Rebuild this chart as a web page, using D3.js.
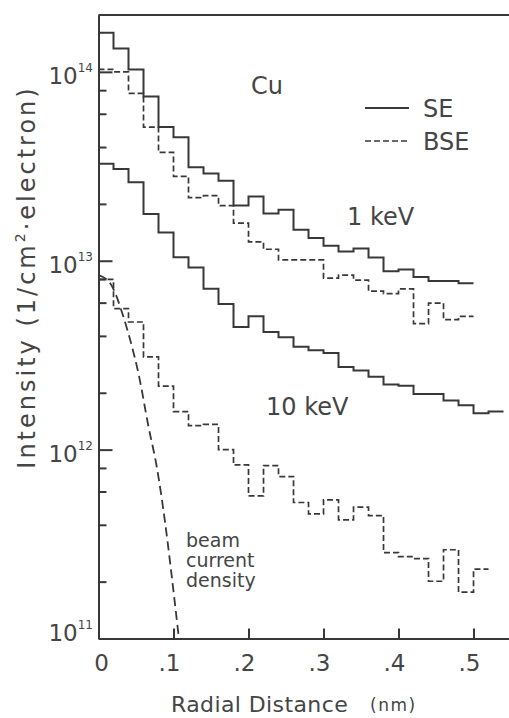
<!DOCTYPE html>
<meta charset="utf-8">
<head>
  <title>Cu - SE / BSE radial intensity</title>
</head>

<style>
  body { margin: 0; background: #fff; }
  svg text { font-family: "DejaVu Sans", sans-serif; fill: #454545; }
  .axis path, .axis line { stroke: #383838; stroke-width: 2; fill: none; }
</style>

<body>
  <svg width="509" height="718"></svg>

  <script src="https://cdn.jsdelivr.net/npm/d3@7/dist/d3.min.js"></script>
  <script>

// histogram bin width in nm
var binWidth = 0.02

// 1 keV
var se1keV = [1.61e14, 1.33e14, 1.03e14, 7.4e13, 5.1e13, 4.5e13, 3.13e13, 2.9e13, 2.65e13, 1.96e13,
              2.19e13, 1.78e13, 1.86e13, 1.46e13, 1.32e13, 1.20e13, 1.12e13, 1.16e13, 1.04e13, 8.8e12,
              9.0e12, 8.2e12, 7.8e12, 7.8e12, 7.6e12]
var bse1keV = [1.03e14, 1.0e14, 7.7e13, 5.1e13, 3.75e13, 2.8e13, 2.16e13, 2.21e13, 1.96e13, 1.58e13,
               1.26e13, 1.15e13, 1.01e13, 1.01e13, 1.01e13, 8.1e12, 8.4e12, 7.9e12, 6.9e12, 6.7e12,
               7.1e12, 4.65e12, 5.97e12, 4.88e12, 5.08e12]

// 10 keV
var se10keV = [3.26e13, 3.06e13, 2.60e13, 1.77e13, 1.41e13, 1.045e13, 9.2e12, 7.1e12, 5.9e12, 4.46e12,
               5.08e12, 4.2e12, 3.94e12, 3.5e12, 3.36e12, 3.25e12, 2.74e12, 2.62e12, 2.43e12, 2.21e12,
               2.18e12, 1.97e12, 1.97e12, 1.82e12, 1.72e12, 1.56e12, 1.59e12]
var bse10keV = [7.97e12, 5.58e12, 4.74e12, 3.10e12, 2.17e12, 1.59e12, 1.34e12, 1.36e12, 1.00e12, 8.3e11,
                5.69e11, 8.23e11, 7.2e11, 5.25e11, 4.57e11, 5.42e11, 4.25e11, 4.96e11, 4.47e11, 2.85e11,
                2.71e11, 2.65e11, 2.01e11, 2.95e11, 1.76e11, 2.33e11]

// beam current density (dashed curve)
var beamR = [0, 0.0156, 0.0333, 0.0423, 0.0533, 0.0667, 0.0777, 0.0889, 0.0977, 0.1067]
var beamI = [8.4e12, 7.6e12, 5.04e12, 3.8e12, 2.53e12, 1.32e12, 8.1e11, 4.08e11, 2.13e11, 1.04e11]

// axes
var xTicks = [0.1, 0.2, 0.3, 0.4, 0.5]
var xTickLabels = ["0", ".1", ".2", ".3", ".4", ".5"]
var yMajor = [1e11, 1e12, 1e13, 1e14]
var yExp = ["11", "12", "13", "14"]
var yMinor = [2e11, 4e11, 6e11, 8e11, 2e12, 4e12, 6e12, 8e12, 2e13, 4e13, 6e13, 8e13]

var ink = "#383838"
var svg = d3.select("svg")

var x = d3.scaleLinear().domain([0, 0.5473]).range([98.5, 509])
var y = d3.scaleLog().domain([1e11, 2e14]).range([638.5, 15])

// frame line on top
svg.append("line")
    .attr("x1", x(0)).attr("x2", x.range()[1])
    .attr("y1", y(2e14)).attr("y2", y(2e14))
    .style("stroke", ink).style("stroke-width", 2)

// y axis, ticks pointing in
svg.append("g").attr("class", "axis")
    .attr("transform", "translate(" + x(0) + ",0)")
    .call(d3.axisLeft(y).tickValues(yMinor).tickSizeInner(-8).tickSizeOuter(0).tickFormat(""))
svg.append("g").attr("class", "axis")
    .attr("transform", "translate(" + x(0) + ",0)")
    .call(d3.axisLeft(y).tickValues(yMajor).tickSizeInner(-14).tickSizeOuter(0).tickFormat(""))

// x axis
svg.append("g").attr("class", "axis")
    .attr("transform", "translate(0," + y(1e11) + ")")
    .call(d3.axisBottom(x).tickValues(xTicks).tickSizeInner(-10).tickSizeOuter(0).tickFormat(""))

// y tick labels 10^n
yMajor.forEach(function(v, i){
    var t = svg.append("text")
        .attr("x", 93)
        .attr("y", y(v) + (v == 1e11 ? 2 : 12))
        .attr("text-anchor", "end")
        .style("font-size", "23px")
    t.append("tspan").text("10")
    t.append("tspan").attr("dy", -12).style("font-size", "12px").text(yExp[i])
})

// x tick labels
xTickLabels.forEach(function(s, i){
    var v = i * 0.1
    svg.append("text")
        .attr("x", i == 0 ? x(v) + 3 : x(v) + 7)
        .attr("y", 671)
        .attr("text-anchor", i == 0 ? "middle" : "end")
        .style("font-size", "23px")
        .text(s)
})

// axis titles
var yl = svg.append("text")
    .attr("transform", "translate(35,277) rotate(-90)")
    .attr("text-anchor", "middle")
    .style("font-size", "24px")
    .style("letter-spacing", "3px")
yl.append("tspan").text("Intensity (1/cm")
yl.append("tspan").attr("dy", -10).style("font-size", "14px").text("2")
yl.append("tspan").attr("dy", 10).text("·electron)")

svg.append("text")
    .attr("x", 171).attr("y", 712)
    .style("font-size", "22px").style("letter-spacing", "0.4px")
    .text("Radial Distance")
svg.append("text")
    .attr("x", 370).attr("y", 711)
    .style("font-size", "17px").style("letter-spacing", "1.5px")
    .text("(nm)")

// histogram lines
function steps(vals){
    var pts = vals.map(function(v, i){ return [i * binWidth, v] })
    pts.push([vals.length * binWidth, vals[vals.length - 1]])
    return d3.line()
        .x(function(d){ return x(d[0]) })
        .y(function(d){ return y(d[1]) })
        .curve(d3.curveStepAfter)(pts)
}

var series = [
    {vals: se1keV, dash: null},
    {vals: bse1keV, dash: "6,3"},
    {vals: se10keV, dash: null},
    {vals: bse10keV, dash: "6,3"}
]
series.forEach(function(s){
    svg.append("path")
        .attr("d", steps(s.vals))
        .style("fill", "none")
        .style("stroke", ink)
        .style("stroke-width", s.dash ? 1.7 : 2)
        .style("stroke-dasharray", s.dash)
})

// beam current density
var beamLine = d3.line()
    .x(function(d, i){ return x(beamR[i]) })
    .y(function(d){ return y(d) })
    .curve(d3.curveMonotoneX)
svg.append("path")
    .attr("d", beamLine(beamI))
    .style("fill", "none")
    .style("stroke", ink)
    .style("stroke-width", 1.8)
    .style("stroke-dasharray", "9,5")

// labels
svg.append("text").attr("x", 251).attr("y", 94).style("font-size", "24px").text("Cu")
svg.append("text").attr("x", 347).attr("y", 225).style("font-size", "24px").text("1 keV")
svg.append("text").attr("x", 266).attr("y", 415).style("font-size", "24px").text("10 keV")

var beamText = ["beam", "current", "density"]
beamText.forEach(function(s, i){
    svg.append("text")
        .attr("x", 186).attr("y", 547 + i * 20)
        .style("font-size", "19px")
        .text(s)
})

// legend
var legend = [{name: "SE", dash: null, y: 108}, {name: "BSE", dash: "6,3", y: 141}]
legend.forEach(function(d){
    svg.append("line")
        .attr("x1", 365).attr("x2", 409)
        .attr("y1", d.y).attr("y2", d.y)
        .style("stroke", ink)
        .style("stroke-width", d.dash ? 1.7 : 2)
        .style("stroke-dasharray", d.dash)
    svg.append("text")
        .attr("x", 423).attr("y", d.y + 8.5)
        .style("font-size", "24px")
        .text(d.name)
})

  </script>
</body>
</html>
